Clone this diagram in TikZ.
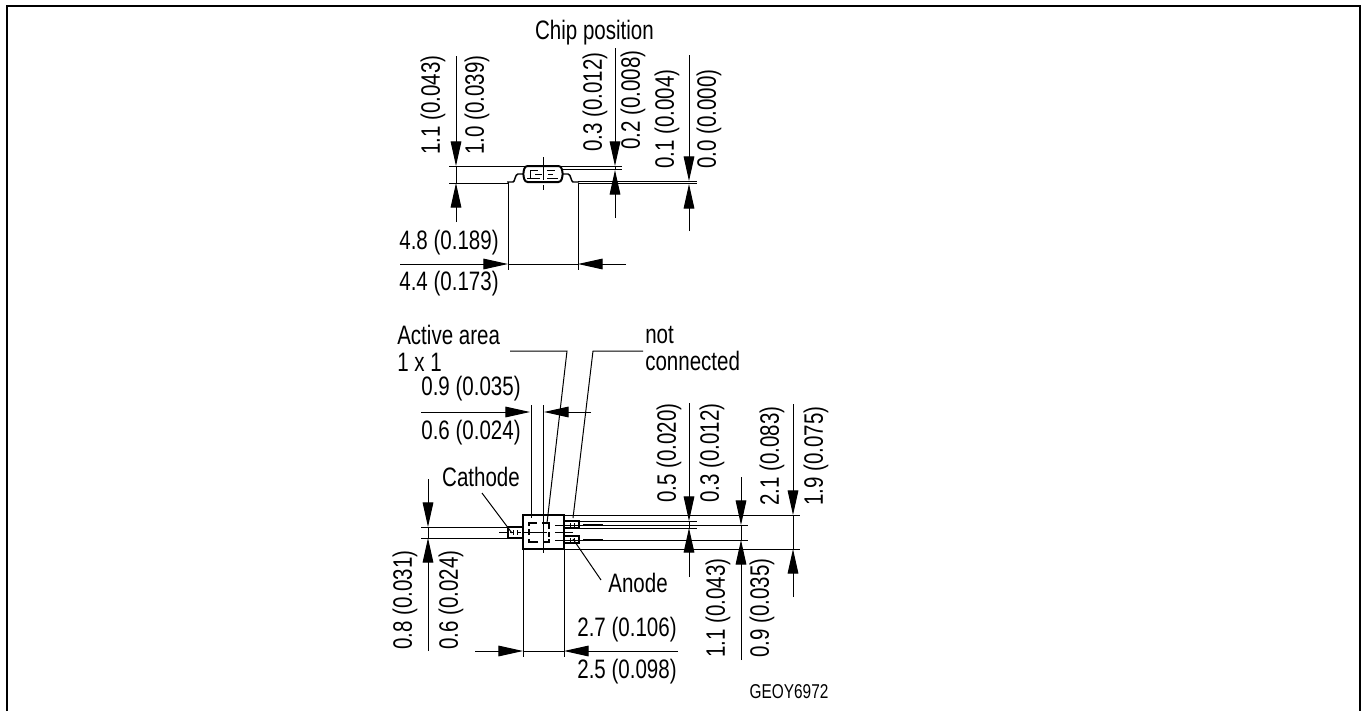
\documentclass[tikz,border=0pt]{standalone}
\usepackage{fontspec}
\setmainfont[FakeStretch=0.77]{Liberation Sans}
\usetikzlibrary{arrows.meta}

\tikzset{
  label/.style={inner sep=0pt, font=\fontsize{20pt}{20.25pt}\selectfont},
  vlabel/.style={label, rotate=90},
  dimline/.style={line width=0.75pt, -{Triangle[length=18.5pt, width=8pt]}},
  thinline/.style={line width=0.75pt},
  outline/.style={line width=1.5pt},
}

\begin{document}
\begin{tikzpicture}[x=0.75pt, y=-0.75pt]
    \useasboundingbox (0, 0) rectangle (1366, 711);
    \draw[line width=1.5pt] (7, 711)--(7, 5.7)--(1360, 5.7)--(1360, 711);

    % chip side view
    \node[label] (chiptitle) at (594.5, 33) {Chip position};
    \draw[outline, rounded corners=2pt] (525, 166)--(561, 166)--(563, 174)--(561, 182)--(525, 182)--(523, 174)--cycle;
    \draw[line width=1.1pt] (507, 182)--(513, 182) .. controls (515, 182) and (515, 174) .. (518, 174)--(523.5, 174);
    \draw[line width=1.1pt] (579, 182)--(573, 182) .. controls (571, 182) and (571, 174) .. (568, 174)--(562.5, 174);
    \draw[thinline] (530, 178)--(530, 170)--(538, 170) (547, 170)--(555, 170);
    \draw[thinline] (535, 174)--(542, 174) (548, 174)--(553, 174);
    \draw[thinline] (527, 178)--(540, 178) (547, 178)--(558, 178);
    \draw[thinline] (543, 157)--(543, 180) (543, 185)--(543, 190);

    \draw[thinline] (449, 166)--(622, 166);
    \draw[thinline] (563, 169.5)--(622, 169.5);
    \draw[thinline] (449, 183)--(508, 183);
    \draw[thinline] (578, 181.5)--(697, 181.5);
    \draw[thinline] (578, 183.5)--(697, 183.5);
    \draw[thinline] (508, 182)--(508, 270);
    \draw[thinline] (578, 183)--(578, 270);

    \draw[dimline] (456, 56)--(456, 166);
    \draw[dimline] (456, 222)--(456, 183);
    \draw[dimline] (615, 48)--(615, 166);
    \draw[dimline] (615, 218)--(615, 170);
    \draw[dimline] (689, 55)--(689, 181);
    \draw[dimline] (689, 231)--(689, 184);
    \draw[dimline] (400, 264)--(508, 264);
    \draw[dimline] (626, 264)--(578, 264);
    \draw[thinline] (508, 264)--(578, 264);
    \draw[thinline] (456, 166)--(456, 183);
    \draw[thinline] (615, 166)--(615, 170);

    \node[vlabel] (hmax) at (433, 105) {1.1 (0.043)};
    \node[vlabel] (hmin) at (477, 105) {1.0 (0.039)};
    \node[vlabel] (tmax) at (595, 102) {0.3 (0.012)};
    \node[vlabel] (tmin) at (633, 100) {0.2 (0.008)};
    \node[vlabel] (smax) at (667, 119) {0.1 (0.004)};
    \node[vlabel] (smin) at (709, 119) {0.0 (0.000)};
    \node[label] (wmax) at (449, 243) {4.8 (0.189)};
    \node[label] (wmin) at (449, 284) {4.4 (0.173)};

    % top view
    \draw[line width=1.8pt] (523, 515) rectangle (564, 549);
    \draw[line width=0.9pt] (523, 527) rectangle (508, 538);
    \draw[line width=0.9pt] (564, 521) rectangle (579, 528);
    \draw[line width=0.9pt] (564, 536) rectangle (579, 543);

    \draw[thinline] (499, 532.5)--(508, 532.5);
    \draw[thinline] (510, 532.5)--(513, 532.5) (513, 530)--(513, 535) (517, 530)--(517, 535) (517, 532.5)--(521, 532.5);
    \draw[thinline] (555, 525)--(748, 525) (555, 540)--(748, 540);
    \draw[line width=1pt] (583, 525)--(603, 525) (583, 540)--(603, 540);
    \draw[thinline] (570, 523)--(570, 527) (574, 523)--(574, 527);
    \draw[thinline] (570, 538)--(570, 542) (574, 538)--(574, 542);
    \draw[thinline] (555, 532.5)--(573, 532.5);
    \draw[line width=1pt] (529, 526)--(529, 523)--(537, 523) (542, 523)--(549, 523)--(549, 529) (549, 532)--(549, 537) (549, 539)--(549, 542)--(543, 542) (538, 542)--(529, 542)--(529, 539) (529, 535)--(529, 529);
    \draw[thinline] (523, 532.5)--(547, 532.5);
    \draw[thinline] (543, 518)--(543, 553);

    \draw[thinline] (564, 515)--(800, 515);
    \draw[thinline] (564, 549)--(800, 549);
    \draw[thinline] (579, 521)--(697, 521);
    \draw[thinline] (579, 528)--(697, 528);
    \draw[thinline] (421, 527)--(508, 527);
    \draw[thinline] (421, 538)--(508, 538);

    \draw[thinline] (531, 405)--(531, 518);
    \draw[thinline] (543, 405)--(543, 518);
    \draw[thinline] (523, 549)--(523, 657);
    \draw[thinline] (564, 549)--(564, 657);

    \draw[dimline] (421, 412)--(530, 412);
    \draw[dimline] (591, 412)--(544, 412);
    \draw[dimline] (428, 479)--(428, 527);
    \draw[dimline] (428, 651)--(428, 538);
    \draw[dimline] (475, 651)--(523, 651);
    \draw[dimline] (678, 651)--(564, 651);
    \draw[dimline] (689, 403)--(689, 521);
    \draw[dimline] (689, 577)--(689, 528);
    \draw[dimline] (741, 477)--(741, 525);
    \draw[dimline] (741, 660)--(741, 540);
    \draw[dimline] (793, 404)--(793, 515);
    \draw[dimline] (793, 597)--(793, 549);
    \draw[thinline] (523, 651)--(564, 651);
    \draw[thinline] (428, 527)--(428, 538);
    \draw[thinline] (689, 521)--(689, 528);
    \draw[thinline] (741, 525)--(741, 540);
    \draw[thinline] (793, 515)--(793, 549);

    \node[label, anchor=west, align=left] (active) at (397, 348.5) {Active area\\1 x 1};
    \node[label, anchor=west, align=left] (notconn) at (645, 348.5) {not\\connected};
    \node[label] (cathode) at (481, 477) {Cathode};
    \node[label] (anode) at (638, 583) {Anode};

    \coordinate (activeend) at (547, 523);
    \coordinate (notconnend) at (573, 518);
    \coordinate (cathodeend) at (512, 533);
    \coordinate (anodeend) at (573, 539);
    \draw[thinline] (510, 351)--(567, 351)--(activeend);
    \draw[thinline] (643, 351)--(593, 351)--(notconnend);
    \draw[thinline] (482, 493)--(cathodeend);
    \draw[thinline] (601, 580)--(anodeend);

    \node[label] (pitchmax) at (471, 389) {0.9 (0.035)};
    \node[label] (pitchmin) at (471, 433) {0.6 (0.024)};
    \node[vlabel] (cmax) at (405, 600) {0.8 (0.031)};
    \node[vlabel] (cmin) at (451, 600) {0.6 (0.024)};
    \node[label] (bmax) at (627, 630) {2.7 (0.106)};
    \node[label] (bmin) at (627, 672) {2.5 (0.098)};
    \node[vlabel] (lmax) at (669, 453) {0.5 (0.020)};
    \node[vlabel] (lmin) at (712, 453) {0.3 (0.012)};
    \node[vlabel] (gmax) at (718, 608) {1.1 (0.043)};
    \node[vlabel] (gmin) at (762, 608) {0.9 (0.035)};
    \node[vlabel] (kmax) at (772, 456) {2.1 (0.083)};
    \node[vlabel] (kmin) at (816, 456) {1.9 (0.075)};
    \node[inner sep=0pt, font=\fontsize{15pt}{16pt}\selectfont] (partno) at (789, 692) {GEOY6972};
  \end{tikzpicture}
\end{document}
